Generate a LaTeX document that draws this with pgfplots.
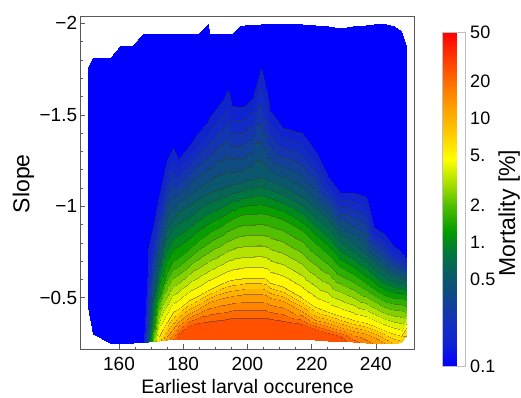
\documentclass[border=0pt]{standalone}
\usepackage{fontspec}
\setmainfont{Liberation Sans}
\usepackage{pgfplots}
\pgfplotsset{compat=1.18}

\def\Bn#1#2#3{rgb255=(#1,#2,#3) }
\def\Bnine#1#2#3{\Bn{#1}{#2}{#3}\Bn{#1}{#2}{#3}\Bn{#1}{#2}{#3}\Bn{#1}{#2}{#3}\Bn{#1}{#2}{#3}\Bn{#1}{#2}{#3}\Bn{#1}{#2}{#3}\Bn{#1}{#2}{#3}\Bn{#1}{#2}{#3}}
\def\Bd#1#2#3#4#5#6{\Bn{#4}{#5}{#6}\Bnine{#1}{#2}{#3}}
\def\Bz{\Bn{0}{0}{255}\Bnine{0}{0}{255}}

\pgfplotsset{
 colormap={base}{
   rgb255(0cm)=(0,0,255)
   rgb255(7cm)=(15,35,210)
   rgb255(12cm)=(20,45,195)
   rgb255(22cm)=(15,75,130)
   rgb255(27cm)=(10,90,105)
   rgb255(34cm)=(0,120,60)
   rgb255(40cm)=(0,155,0)
   rgb255(48cm)=(80,190,0)
   rgb255(54cm)=(160,220,0)
   rgb255(62cm)=(255,255,0)
   rgb255(70cm)=(255,200,0)
   rgb255(79cm)=(255,150,0)
   rgb255(89cm)=(255,80,0)
   rgb255(100cm)=(255,0,0)
 }
}
\edef\makebands{\noexpand\pgfplotsset{colormap={bands}{%
 \Bz
 \Bd{15}{36}{209}{30}{42}{137}
 \Bd{19}{43}{198}{32}{46}{131}
 \Bd{19}{53}{177}{32}{51}{119}
 \Bd{17}{65}{153}{31}{58}{106}
 \Bd{15}{76}{129}{30}{64}{93}
 \Bd{11}{87}{110}{28}{70}{82}
 \Bd{6}{101}{86}{25}{78}{69}
 \Bd{1}{117}{65}{23}{86}{58}
 \Bd{0}{138}{30}{22}{98}{39}
 \Bd{8}{158}{0}{26}{109}{22}
 \Bd{45}{175}{0}{47}{118}{22}
 \Bd{82}{191}{0}{67}{127}{22}
 \Bd{132}{209}{0}{95}{137}{22}
 \Bd{179}{227}{0}{120}{147}{22}
 \Bd{223}{243}{0}{145}{156}{22}
 \Bd{255}{248}{0}{162}{158}{22}
 \Bd{255}{223}{0}{162}{145}{22}
 \Bd{255}{198}{0}{162}{131}{22}
 \Bd{255}{177}{0}{162}{119}{22}
 \Bd{255}{157}{0}{162}{108}{22}
 \Bd{255}{132}{0}{162}{95}{22}
 \Bd{255}{106}{0}{162}{80}{22}
 \Bd{255}{81}{0}{162}{67}{22}
 \Bd{255}{54}{0}{162}{52}{22}
 \Bd{255}{27}{0}{162}{37}{22}
 \Bd{255}{0}{0}{162}{22}{22}
 \Bn{255}{0}{0}}}}
\makebands

\begin{document}
\begin{tikzpicture}[x=1pt,y=1pt]
\begin{axis}[
  at={(80pt,48pt)}, anchor=south west,
  scale only axis, width=334pt, height=333pt,
  xmin=147.85, xmax=251.9, ymin=-2.04, ymax=-0.22,
  y dir=reverse,
  xtick={160,180,200,220,240}, xticklabels={160,180,200,220,240},
  ytick={-2,-1.5,-1,-0.5}, yticklabels={−2,−1.5,−1,−0.5},
  minor x tick num=3, minor y tick num=4,
  tick align=inside, tick pos=left,
  major tick length=5pt, minor tick length=2.5pt,
  axis line style={draw=black!65, line width=0.8pt},
  every tick/.style={black!65, line width=0.6pt},
  ticklabel style={font=\fontsize{19}{22}\selectfont},
  xticklabel style={anchor=north, inner sep=0pt, yshift=-8.3pt},
  yticklabel style={anchor=east, inner sep=0pt, xshift=-2.7pt},
  colormap name=bands, point meta min=-1, point meta max=1.7,
]
\addplot[surf, shader=interp, colormap access=piecewise constant,
  mesh/ordering=y varies, point meta=explicit]
  table[x=x, y=y, meta=v] {
x y v
150.29 -1.76 -1
150.29 -0.45 -1
150.29 -0.45 -1
150.29 -0.45 -1
150.29 -0.45 -1
150.29 -0.45 -1
150.29 -0.45 -1
150.29 -0.45 -1

151.88 -1.81 -1
151.88 -0.30 -1
151.88 -0.30 -1
151.88 -0.30 -1
151.88 -0.30 -1
151.88 -0.30 -1
151.88 -0.30 -1
151.88 -0.30 -1

157.22 -1.81 -1
157.22 -0.255 -1
157.22 -0.255 -1
157.22 -0.255 -1
157.22 -0.255 -1
157.22 -0.255 -1
157.22 -0.255 -1
157.22 -0.255 -1

160.28 -1.877 -1
160.28 -0.254 -1
160.28 -0.254 -1
160.28 -0.254 -1
160.28 -0.254 -1
160.28 -0.254 -1
160.28 -0.254 -1
160.28 -0.254 -1

164.34 -1.88 -1
164.34 -0.255 -1
164.34 -0.255 -1
164.34 -0.255 -1
164.34 -0.255 -1
164.34 -0.255 -1
164.34 -0.255 -1
164.34 -0.255 -1

167.6 -1.94 -1
167.6 -0.258 -1
167.6 -0.258 -1
167.6 -0.258 -1
167.6 -0.258 -1
167.6 -0.258 -1
167.6 -0.258 -1
167.6 -0.258 -1

169.09 -1.94 -1
169.09 -0.76 -0.9
169.09 -0.26 -0.4
169.09 -0.26 -0.4
169.09 -0.26 -0.4
169.09 -0.26 -0.4
169.09 -0.26 -0.4
169.09 -0.26 -0.4

170.57 -1.94 -1
170.57 -0.88 -0.9
170.57 -0.50 -0.3
170.57 -0.32 0.1
170.57 -0.262 0.25
170.57 -0.262 0.25
170.57 -0.262 0.25
170.57 -0.262 0.25

172.55 -1.94 -1
172.55 -1.05 -0.9
172.55 -0.68 -0.3
172.55 -0.50 0.1
172.55 -0.29 0.7
172.55 -0.265 0.75
172.55 -0.265 0.75
172.55 -0.265 0.75

175.02 -1.94 -1
175.02 -1.25 -0.9
175.02 -0.88 -0.3
175.02 -0.64 0.1
175.02 -0.37 0.7
175.02 -0.29 1.0
175.02 -0.27 1.05
175.02 -0.27 1.05

176.70 -1.94 -1
176.70 -1.32 -0.9
176.70 -0.93 -0.3
176.70 -0.70 0.1
176.70 -0.42 0.7
176.70 -0.33 1.0
176.70 -0.273 1.2
176.70 -0.273 1.2

178.48 -1.94 -1
178.48 -1.26 -0.9
178.48 -0.97 -0.3
178.48 -0.72 0.1
178.48 -0.44 0.7
178.48 -0.37 1.0
178.48 -0.30 1.3
178.48 -0.275 1.34

181.45 -1.94 -1
181.45 -1.32 -0.9
181.45 -1.00 -0.3
181.45 -0.76 0.1
181.45 -0.48 0.7
181.45 -0.41 1.0
181.45 -0.345 1.3
181.45 -0.275 1.38

184.71 -1.94 -1
184.71 -1.40 -0.9
184.71 -1.04 -0.3
184.71 -0.81 0.1
184.71 -0.51 0.7
184.71 -0.44 1.0
184.71 -0.36 1.3
184.71 -0.275 1.38

187.68 -1.997 -1
187.68 -1.46 -0.9
187.68 -1.07 -0.3
187.68 -0.85 0.1
187.68 -0.54 0.7
187.68 -0.47 1.0
187.68 -0.37 1.3
187.68 -0.275 1.38

188.17 -1.94 -1
188.17 -1.48 -0.9
188.17 -1.075 -0.3
188.17 -0.855 0.1
188.17 -0.545 0.7
188.17 -0.475 1.0
188.17 -0.372 1.3
188.17 -0.275 1.38

189.36 -1.94 -1
189.36 -1.51 -0.9
189.36 -1.085 -0.3
189.36 -0.87 0.1
189.36 -0.555 0.7
189.36 -0.485 1.0
189.36 -0.375 1.3
189.36 -0.275 1.38

192.33 -1.94 -1
192.33 -1.58 -0.9
192.33 -1.10 -0.3
192.33 -0.90 0.1
192.33 -0.58 0.7
192.33 -0.50 1.0
192.33 -0.38 1.3
192.33 -0.275 1.38

193.81 -1.94 -1
193.81 -1.63 -0.9
193.81 -1.11 -0.3
193.81 -0.92 0.1
193.81 -0.59 0.7
193.81 -0.505 1.0
193.81 -0.385 1.3
193.81 -0.275 1.38

195.10 -1.94 -1
195.10 -1.55 -0.9
195.10 -1.12 -0.3
195.10 -0.93 0.1
195.10 -0.595 0.7
195.10 -0.51 1.0
195.10 -0.387 1.3
195.10 -0.275 1.38

197.67 -1.986 -1
197.67 -1.54 -0.9
197.67 -1.13 -0.3
197.67 -0.95 0.1
197.67 -0.60 0.7
197.67 -0.515 1.0
197.67 -0.39 1.3
197.67 -0.275 1.38

199.25 -1.99 -1
199.25 -1.55 -0.9
199.25 -1.14 -0.3
199.25 -0.96 0.1
199.25 -0.61 0.7
199.25 -0.52 1.0
199.25 -0.39 1.3
199.25 -0.275 1.38

201.72 -1.99 -1
201.72 -1.59 -0.9
201.72 -1.15 -0.3
201.72 -0.96 0.1
201.72 -0.61 0.7
201.72 -0.52 1.0
201.72 -0.39 1.3
201.72 -0.275 1.38

204.20 -1.995 -1
204.20 -1.75 -0.9
204.20 -1.16 -0.3
204.20 -0.965 0.1
204.20 -0.61 0.7
204.20 -0.52 1.0
204.20 -0.39 1.3
204.20 -0.275 1.38

205.68 -1.995 -1
205.68 -1.64 -0.9
205.68 -1.15 -0.3
205.68 -0.96 0.1
205.68 -0.60 0.7
205.68 -0.515 1.0
205.68 -0.39 1.3
205.68 -0.275 1.38

207.16 -1.995 -1
207.16 -1.52 -0.9
207.16 -1.14 -0.3
207.16 -0.955 0.1
207.16 -0.58 0.7
207.16 -0.50 1.0
207.16 -0.385 1.3
207.16 -0.275 1.38

211.12 -1.997 -1
211.12 -1.43 -0.9
211.12 -1.11 -0.3
211.12 -0.93 0.1
211.12 -0.56 0.7
211.12 -0.48 1.0
211.12 -0.375 1.3
211.12 -0.275 1.38

217.05 -1.997 -1
217.05 -1.40 -0.9
217.05 -1.05 -0.3
217.05 -0.87 0.1
217.05 -0.50 0.7
217.05 -0.43 1.0
217.05 -0.355 1.3
217.05 -0.275 1.38

221.01 -1.99 -1
221.01 -1.30 -0.9
221.01 -0.99 -0.3
221.01 -0.80 0.1
221.01 -0.45 0.7
221.01 -0.38 1.0
221.01 -0.33 1.3
221.01 -0.27 1.38

224.96 -1.985 -1
224.96 -1.16 -0.9
224.96 -0.93 -0.3
224.96 -0.74 0.1
224.96 -0.42 0.7
224.96 -0.36 1.0
224.96 -0.31 1.3
224.96 -0.265 1.37

228.92 -1.975 -1
228.92 -1.07 -0.9
228.92 -0.85 -0.3
228.92 -0.67 0.1
228.92 -0.40 0.7
228.92 -0.34 1.0
228.92 -0.29 1.3
228.92 -0.262 1.34

232.87 -1.985 -1
232.87 -1.07 -0.9
232.87 -0.80 -0.3
232.87 -0.63 0.1
232.87 -0.38 0.7
232.87 -0.32 1.0
232.87 -0.258 1.25
232.87 -0.258 1.25

236.83 -1.99 -1
236.83 -1.05 -0.9
236.83 -0.74 -0.3
236.83 -0.58 0.1
236.83 -0.36 0.7
236.83 -0.30 1.0
236.83 -0.255 1.15
236.83 -0.255 1.15

239.30 -1.995 -1
239.30 -0.88 -0.9
239.30 -0.70 -0.3
239.30 -0.55 0.1
239.30 -0.345 0.7
239.30 -0.285 1.0
239.30 -0.254 1.08
239.30 -0.254 1.08

243.26 -1.997 -1
243.26 -0.84 -0.9
243.26 -0.64 -0.3
243.26 -0.51 0.1
243.26 -0.32 0.7
243.26 -0.252 0.98
243.26 -0.252 0.98
243.26 -0.252 0.98

245.73 -1.985 -1
245.73 -0.78 -0.9
245.73 -0.62 -0.3
245.73 -0.50 0.1
245.73 -0.30 0.7
245.73 -0.25 0.9
245.73 -0.25 0.9
245.73 -0.25 0.9

247.71 -1.96 -1
247.71 -0.75 -0.9
247.71 -0.61 -0.3
247.71 -0.50 0.1
247.71 -0.29 0.7
247.71 -0.26 0.86
247.71 -0.26 0.86
247.71 -0.26 0.86

249.69 -1.86 -1
249.69 -0.71 -0.9
249.69 -0.59 -0.3
249.69 -0.49 0.1
249.69 -0.34 0.7
249.69 -0.30 0.78
249.69 -0.30 0.78
249.69 -0.30 0.78
};
\end{axis}
\begin{axis}[
  at={(80pt,48pt)}, anchor=south west,
  scale only axis, width=334pt, height=333pt,
  hide axis, xmin=0, xmax=1, ymin=0, ymax=1,
  colormap name=base, point meta min=-1, point meta max=1.69897,
  colorbar,
  colorbar style={
    at={(parent axis.north east)}, anchor=north west,
    xshift=20pt, yshift=-16pt,
    scale only axis, width=22.5pt, height=334pt,
    ytick={-1,-0.30103,0,0.30103,0.69897,1,1.30103,1.69897},
    yticklabels={0.1,0.5,1.,2.,5.,10,20,50},
    yticklabel style={font=\fontsize{18}{21}\selectfont, anchor=west, inner sep=0pt, xshift=5pt},
    major tick length=0pt,
    axis line style={draw=black!25, line width=0.4pt},
  },
]
\addplot[draw=none] coordinates {(0.5,0.5)};
\end{axis}
\node[anchor=base, font=\fontsize{19.5}{23}\selectfont] at (247.5,3.5) {Earliest larval occurence};
\node[anchor=base, rotate=90, font=\fontsize{23}{27}\selectfont] at (29.3,213.3) {Slope};
\node[anchor=base, rotate=90, font=\fontsize{23}{27}\selectfont] at (515,184) {Mortality [\%]};
\pgfresetboundingbox
\path[use as bounding box] (0,0) rectangle (521,397);
\end{tikzpicture}
\end{document}
